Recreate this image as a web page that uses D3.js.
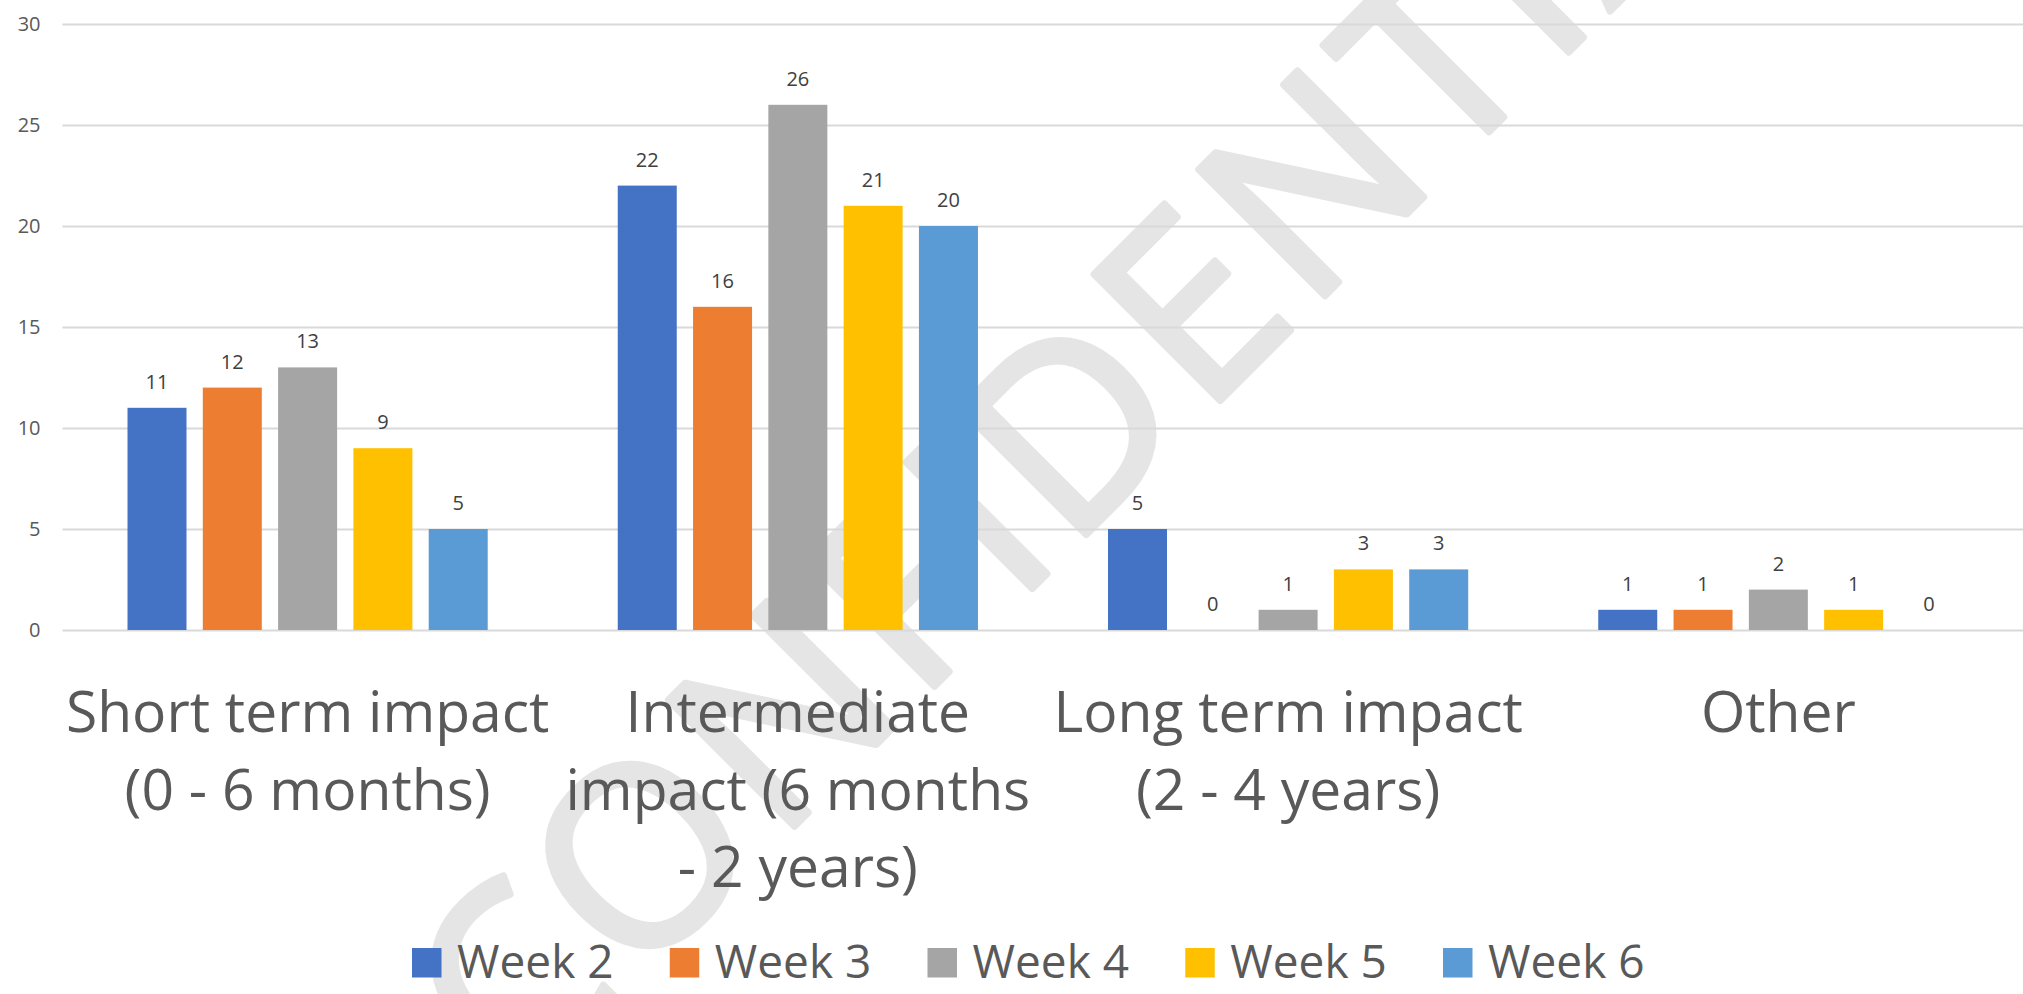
<!DOCTYPE html>
<html>
<head>
<meta charset="utf-8">
<script src="https://cdn.jsdelivr.net/npm/d3@7"></script>
<style>
  html, body { margin: 0; padding: 0; background: #ffffff; }
  svg { display: block; }
  text { font-family: "Open Sans", "Noto Sans", sans-serif; }
</style>
</head>
<body>
<script>
// ---------- data ----------
const categoryLines = [
  ["Short term impact", "(0 - 6 months)"],
  ["Intermediate", "impact (6 months", "- 2 years)"],
  ["Long term impact", "(2 - 4 years)"],
  ["Other"]
];
const categories = ["Short term impact (0 - 6 months)", "Intermediate impact (6 months - 2 years)", "Long term impact (2 - 4 years)", "Other"];
const seriesNames = ["Week 2", "Week 3", "Week 4", "Week 5", "Week 6"];
const week2 = [11, 22, 5, 1];
const week3 = [12, 16, 0, 1];
const week4 = [13, 26, 1, 2];
const week5 = [9, 21, 3, 1];
const week6 = [5, 20, 3, 0];
const seriesValues = [week2, week3, week4, week5, week6];
const seriesColors = ["#4472C4", "#ED7D31", "#A5A5A5", "#FFC000", "#5B9BD5"];
const yTicks = [0, 5, 10, 15, 20, 25, 30];
const watermarkText = "CONFIDENTIAL";
const watermarkAdvance = [0.533, 0.662, 0.646, 0.459, 0.252, 0.615, 0.488, 0.646, 0.487, 0.252, 0.579, 0.42];

// ---------- layout ----------
const W = 2023, H = 994;
const plotLeft = 62.5, plotRight = 2023.5, plotTop = 24, plotBottom = 630;

const svg = d3.select("body").append("svg")
  .attr("width", W).attr("height", H)
  .attr("viewBox", `0 0 ${W} ${H}`);

svg.append("rect").attr("width", W).attr("height", H).attr("fill", "#ffffff");

// ---------- watermark (behind everything) ----------
const wmEm = 305;
const wm = svg.append("g")
  .attr("transform", "translate(518.5,1106.5) rotate(-45)");
let cum = 0;
const wmLetters = watermarkText.split("").map((ch, i) => {
  const c = (cum + watermarkAdvance[i] / 2) * wmEm;
  cum += watermarkAdvance[i];
  return { ch, c };
});
wm.selectAll("text").data(wmLetters).join("text")
  .attr("x", d => d.c)
  .attr("y", -3)
  .attr("text-anchor", "middle")
  .attr("font-size", 250)
  .attr("fill", "#e5e5e5")
  .attr("stroke", "#e5e5e5")
  .attr("stroke-width", 7)
  .attr("stroke-linejoin", "round")
  .text(d => d.ch);

// ---------- scales ----------
const x0 = d3.scaleBand().domain(categories).range([plotLeft, plotRight]).paddingInner(0).paddingOuter(0);
const x1 = d3.scaleBand().domain(seriesNames).range([65, 425.2]).paddingInner(0.2165).paddingOuter(0);
const y = d3.scaleLinear().domain([0, 30]).range([plotBottom, plotTop]);

// ---------- y axis + gridlines ----------
const yAxis = d3.axisLeft(y)
  .tickValues(yTicks)
  .tickSize(-(plotRight - plotLeft))
  .tickPadding(22)
  .tickFormat(d3.format("d"));

const gy = svg.append("g")
  .attr("transform", `translate(${plotLeft},0)`)
  .call(yAxis);
gy.select(".domain").remove();
gy.selectAll(".tick line").attr("stroke", "#d9d9d9").attr("stroke-width", 2);
gy.selectAll(".tick text")
  .attr("fill", "#595959")
  .attr("font-size", 20)
  .attr("font-family", "'Open Sans', sans-serif");

// ---------- bars ----------
const groups = svg.append("g").selectAll("g")
  .data(categories).join("g")
  .attr("transform", d => `translate(${x0(d)},0)`);

groups.selectAll("rect")
  .data((c, ci) => seriesNames.map((s, si) => ({ s, si, v: seriesValues[si][ci] })))
  .join("rect")
  .attr("x", d => x1(d.s))
  .attr("y", d => y(d.v))
  .attr("width", x1.bandwidth())
  .attr("height", d => y(0) - y(d.v))
  .attr("fill", d => seriesColors[d.si]);

groups.selectAll("text.lbl")
  .data((c, ci) => seriesNames.map((s, si) => ({ s, si, v: seriesValues[si][ci] })))
  .join("text")
  .attr("class", "lbl")
  .attr("x", d => x1(d.s) + x1.bandwidth() / 2)
  .attr("y", d => y(d.v) - 19)
  .attr("text-anchor", "middle")
  .attr("font-size", 20)
  .attr("fill", "#404040")
  .text(d => d.v);

// ---------- category labels ----------
const catG = svg.append("g");
categories.forEach((c, ci) => {
  const t = catG.append("text")
    .attr("text-anchor", "middle")
    .attr("font-size", 57)
    .attr("fill", "#595959");
  categoryLines[ci].forEach((line, li) => {
    t.append("tspan")
      .attr("x", x0(c) + x0.bandwidth() / 2)
      .attr("y", 732 + li * 77.5)
      .text(line);
  });
});

// ---------- legend ----------
const legendX0 = 412, legendStep = 257.75, legendSq = 29.5, legendTop = 948;
const lg = svg.append("g").selectAll("g")
  .data(seriesNames).join("g")
  .attr("transform", (d, i) => `translate(${legendX0 + i * legendStep},${legendTop})`);
lg.append("rect")
  .attr("width", legendSq).attr("height", legendSq)
  .attr("fill", (d, i) => seriesColors[i]);
lg.append("text")
  .attr("x", 45)
  .attr("y", 29.5)
  .attr("font-size", 46)
  .attr("fill", "#595959")
  .text(d => d);
</script>
</body>
</html>
